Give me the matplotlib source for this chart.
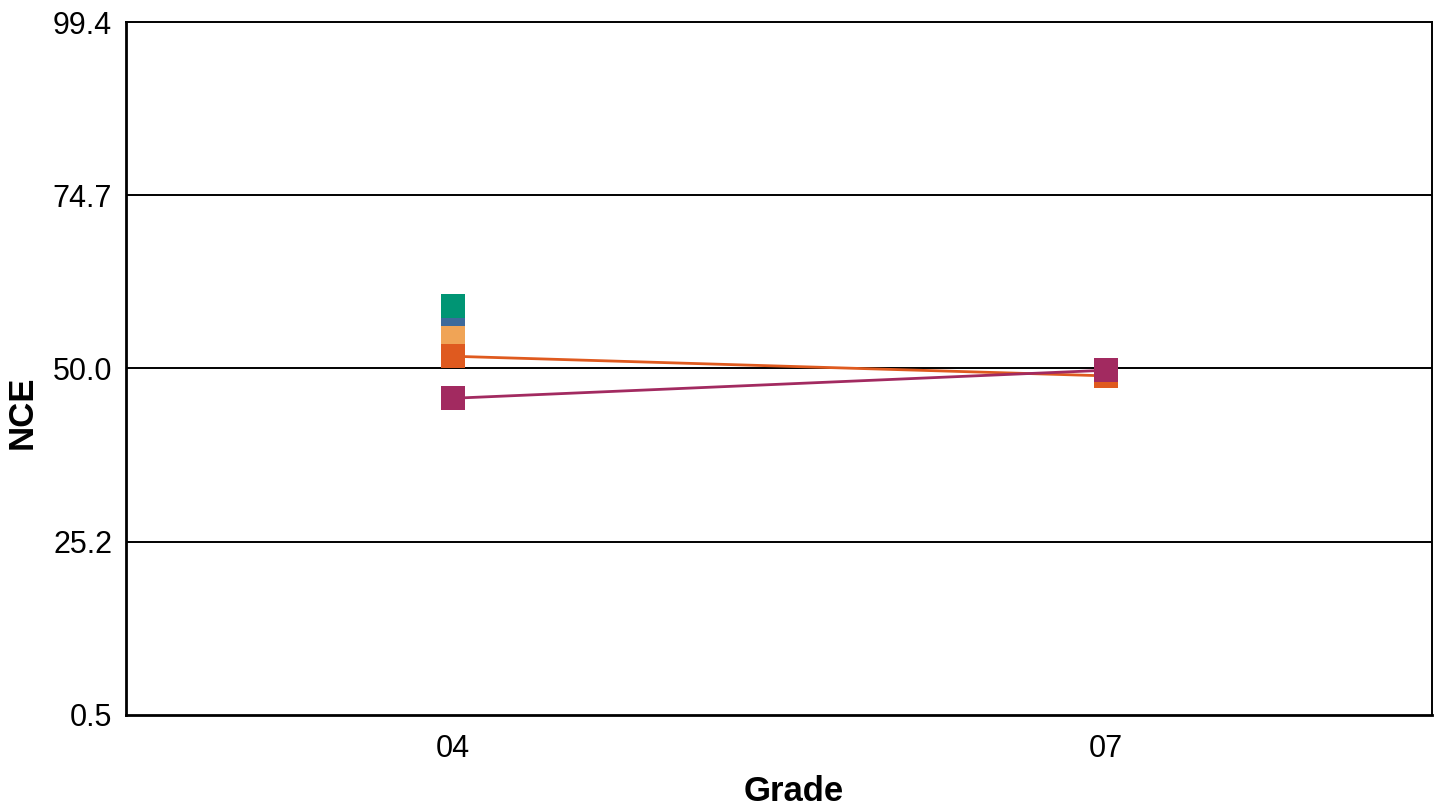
import numpy as np
import matplotlib.pyplot as plt

plt.rcParams['font.family'] = ['Liberation Sans', 'DejaVu Sans']

grades = ["04", "07"]
y_ticks = [0.5, 25.2, 50.0, 74.7, 99.4]

# one list per series, NaN where the series has no value
blue_vals = [56.0, np.nan]
green_vals = [58.9, np.nan]
light_orange_vals = [54.3, np.nan]
dark_orange_vals = [51.7, 48.9]
magenta_vals = [45.7, 49.7]

series = [
    (blue_vals, "#3d6a9b"),
    (green_vals, "#009574"),
    (light_orange_vals, "#f0a456"),
    (dark_orange_vals, "#df5a1f"),
    (magenta_vals, "#a22a60"),
]

fig = plt.figure(figsize=(14.42, 8.08), dpi=100)
ax = fig.add_axes([126 / 1442, 1 - 715 / 808, (1432 - 126) / 1442, (715 - 22) / 808])

x = np.arange(len(grades))
for i, (vals, color) in enumerate(series):
    ax.plot(x, vals, color=color, lw=2.0, marker="s", markersize=17,
            markeredgewidth=0, zorder=3 + i)

for t in y_ticks[1:-1]:
    ax.axhline(t, color="black", lw=1.4, zorder=1)

ax.set_xlim(-0.5, 1.5)
ax.set_ylim(0.5, 99.4)
ax.set_xticks(x)
ax.set_xticklabels(grades)
ax.set_yticks(y_ticks)
ax.set_yticklabels([f"{t:.1f}" for t in y_ticks])
ax.tick_params(length=0, labelsize=22, pad=10)
ax.tick_params(axis="x", pad=14)
for sp in ax.spines.values():
    sp.set_linewidth(1.4)
ax.spines["left"].set_linewidth(2.0)
ax.spines["bottom"].set_linewidth(2.0)

ax.set_xlabel("Grade", fontsize=25, fontweight="bold")
ax.set_ylabel("NCE", fontsize=25, fontweight="bold")
ax.xaxis.set_label_coords(0.511, -0.087)
ax.yaxis.set_label_coords(-0.067, 0.437)

fig.savefig("out.png", dpi=100)
